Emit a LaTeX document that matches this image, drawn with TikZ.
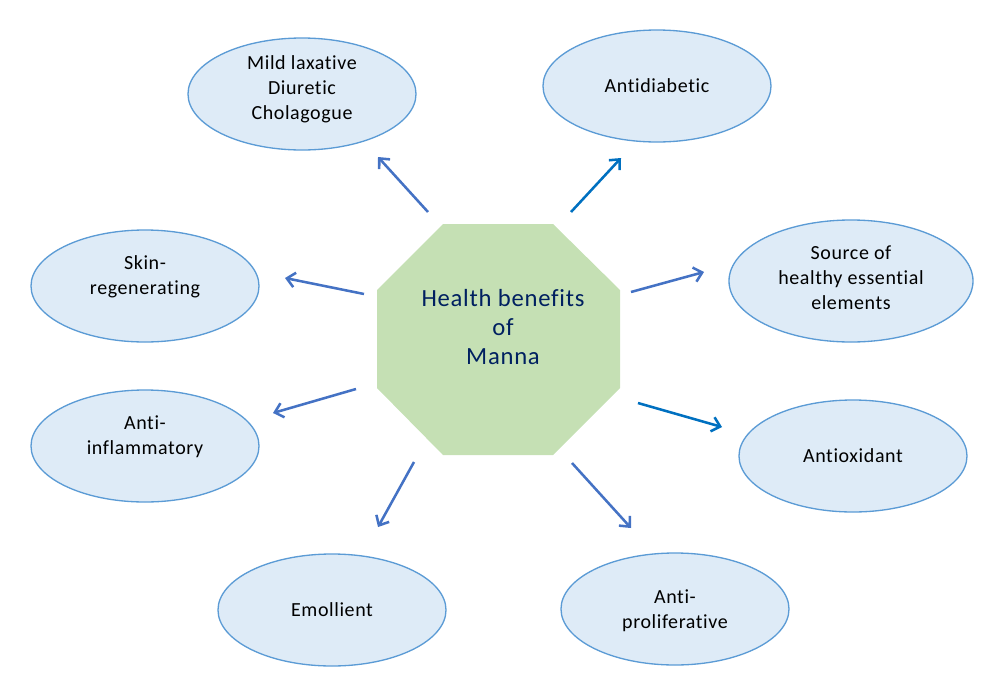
\documentclass[tikz,border=0pt]{standalone}
\usepackage{fontspec}
\setmainfont[LetterSpace=3,Ligatures={CommonOff,ContextualOff}]{Carlito}
\usetikzlibrary{shapes.geometric,arrows.meta}
\definecolor{ellfill}{RGB}{222,235,247}
\definecolor{elldraw}{RGB}{91,155,213}
\definecolor{octfill}{RGB}{197,224,180}
\definecolor{arrA}{RGB}{68,114,196}
\definecolor{arrB}{RGB}{0,112,192}
\definecolor{ctext}{RGB}{0,32,96}
\tikzset{
  ell/.style={ellipse, draw=elldraw, fill=ellfill, line width=1pt, inner sep=0pt,
    minimum width=171bp, minimum height=84bp},
  bigell/.style={ell, minimum width=183bp, minimum height=91.5bp},
  etext/.style={align=center, inner sep=0pt, font=\fontsize{15bp}{18.75bp}\selectfont},
  conn/.style={line width=1.9bp, arrA, -{Straight Barb[length=6bp,width=11bp,line width=1.9bp]}},
  connB/.style={conn, arrB},
}
\begin{document}
\begin{tikzpicture}[x=0.75bp,y=-0.75bp]
\useasboundingbox (0,0) rectangle (1000,687);
% octagon
\fill[octfill] (443,224) -- (553,224) -- (620,290) -- (620,388) -- (553,455) -- (443,455) -- (377,388) -- (377,290) -- cycle;
\node[align=center, text=ctext, font=\fontsize{18.5bp}{22bp}\selectfont] (c) at (503,327) {Health benefits\\of\\Manna};
% ellipses
\node[ell] (e1) at (302,94) {};
\node[ell] (e2) at (657,86) {};
\node[ell] (e3) at (145,286) {};
\node[bigell] (e4) at (851,281) {};
\node[ell] (e5) at (145,446) {};
\node[ell] (e6) at (853,456) {};
\node[ell] (e7) at (332,610) {};
\node[ell] (e8) at (675,609) {};
% texts
\node[etext] (l1) at (302,89) {Mild laxative\\Diuretic\\Cholagogue};
\node[etext] (l2) at (657,86) {Antidiabetic};
\node[etext] (l3) at (145,277) {Skin-\\regenerating};
\node[etext] (l4) at (851,278) {Source of\\healthy essential\\elements};
\node[etext] (l5) at (145,437) {Anti-\\inflammatory};
\node[etext] (l6) at (853,456) {Antioxidant};
\node[etext] (l7) at (332,610) {Emollient};
\node[etext] (l8) at (675,611) {Anti-\\proliferative};
% arrow endpoints
\coordinate (t1) at (428,212); \coordinate (h1) at (378,157);
\coordinate (t2) at (571,212); \coordinate (h2) at (621,158);
\coordinate (t3) at (364,294); \coordinate (h3) at (285,278);
\coordinate (t4) at (631,292); \coordinate (h4) at (704,272);
\coordinate (t5) at (356,389); \coordinate (h5) at (273,413);
\coordinate (t6) at (638,403); \coordinate (h6) at (722,427);
\coordinate (t7) at (414,462); \coordinate (h7) at (378,527);
\coordinate (t8) at (572,463); \coordinate (h8) at (631,528);
\draw[conn] (t1) -- (h1);
\draw[connB] (t2) -- (h2);
\draw[conn] (t3) -- (h3);
\draw[conn] (t4) -- (h4);
\draw[conn] (t5) -- (h5);
\draw[connB] (t6) -- (h6);
\draw[conn] (t7) -- (h7);
\draw[conn] (t8) -- (h8);
\end{tikzpicture}
\end{document}
